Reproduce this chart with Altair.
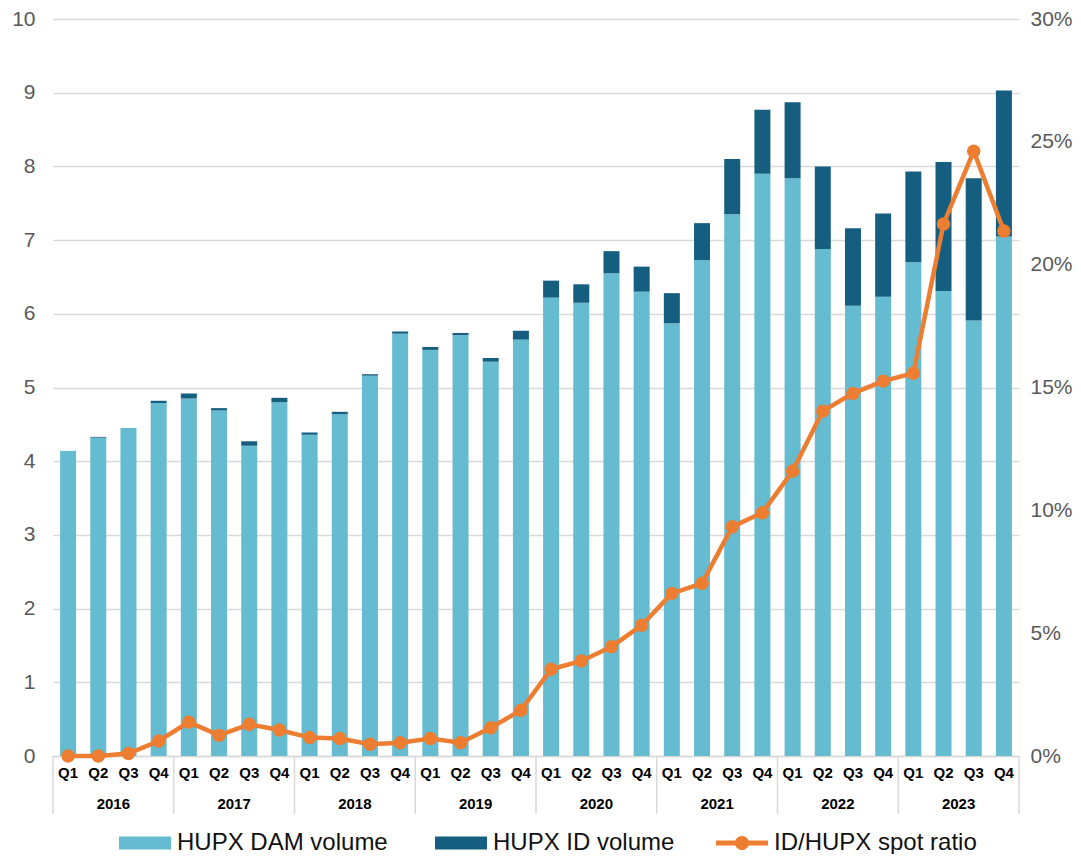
import altair as alt
import pandas as pd

# ---------------- data ----------------
years = ["2016", "2017", "2018", "2019", "2020", "2021", "2022", "2023"]
quarter_names = ["Q1", "Q2", "Q3", "Q4"]

dam_volume = [4.14, 4.32, 4.45, 4.79, 4.85, 4.69, 4.21, 4.80,
              4.36, 4.64, 5.16, 5.73, 5.51, 5.71, 5.35, 5.65,
              6.22, 6.15, 6.55, 6.30, 5.87, 6.73, 7.35, 7.90,
              7.84, 6.88, 6.11, 6.23, 6.70, 6.31, 5.91, 7.05]
id_volume = [0.00, 0.01, 0.00, 0.03, 0.07, 0.03, 0.06, 0.06,
             0.03, 0.03, 0.02, 0.03, 0.04, 0.03, 0.05, 0.12,
             0.23, 0.25, 0.30, 0.34, 0.41, 0.50, 0.75, 0.87,
             1.03, 1.12, 1.05, 1.13, 1.23, 1.75, 1.93, 1.98]
ratio_pct = [0.0, 0.0, 0.1, 0.61, 1.38, 0.84, 1.29, 1.06,
             0.75, 0.71, 0.48, 0.54, 0.71, 0.54, 1.15, 1.86,
             3.53, 3.87, 4.45, 5.32, 6.62, 7.03, 9.33, 9.90,
             11.6, 14.04, 14.76, 15.26, 15.58, 21.66, 24.62, 21.37]

left_ticks = list(range(0, 11))
right_ticks = [0, 0.05, 0.10, 0.15, 0.20, 0.25, 0.30]

series_names = ["HUPX DAM volume", "HUPX ID volume", "ID/HUPX spot ratio"]

# ---------------- styles ----------------
LIGHT = "#65BBCF"
DARK = "#155E80"
ORANGE = "#ED7D31"
GRID = "#D9D9D9"
AXIS_TXT = "#595959"
FONT = "Liberation Sans"

W, H = 966, 737

rows = []
for i in range(len(dam_volume)):
    rows.append(dict(idx=i, quarter=quarter_names[i % 4], year=years[i // 4],
                     dam=dam_volume[i], idv=id_volume[i], ratio=ratio_pct[i] / 100.0))
df = pd.DataFrame(rows)
years_df = pd.DataFrame({"year": years, "k": list(range(len(years)))})
sep_df = pd.DataFrame({"b": [4 * k for k in range(len(years) + 1)]})

n = len(dam_volume)
xscale = alt.Scale(domain=[0, n], nice=False, zero=False)

base = alt.Chart(df).transform_calculate(
    x0="datum.idx + 0.235", x1="datum.idx + 0.765", xc="datum.idx + 0.5",
    total="datum.dam + datum.idv")

RECT_PATH = "M-1,-0.25H1V0.25H-1Z"
LINE_PATH = "M-1,-0.1H1V0.1H-1Z M0.27,0A0.27,0.27 0 1,1 -0.27,0A0.27,0.27 0 1,1 0.27,0Z"

LEG_Y = 798

bar_color = alt.Scale(domain=series_names[:2], range=[LIGHT, DARK])
bar_legend = alt.Legend(orient="none", legendX=66, legendY=LEG_Y, direction="horizontal",
                        title=None, symbolType=RECT_PATH, symbolSize=2704,
                        labelFontSize=24, labelFont=FONT, labelColor="#111111",
                        labelOffset=6, columnPadding=47, padding=0, labelLimit=0,
                        symbolStrokeWidth=0, symbolOpacity=1)

xaxis = alt.Axis(labels=False, ticks=False, grid=False, domainColor=GRID,
                 domainWidth=1.5, title=None)
left_axis = alt.Axis(values=left_ticks, format="d", title=None, ticks=False,
                     domain=False, labelFontSize=21, labelFont=FONT,
                     labelColor=AXIS_TXT, labelPadding=18, gridColor=GRID,
                     gridWidth=1.5)
right_axis = alt.Axis(orient="right", values=right_ticks, format=".0%", title=None,
                      ticks=False, domain=False, grid=False, labelFontSize=21,
                      labelFont=FONT, labelColor=AXIS_TXT, labelPadding=11)
vol_scale = alt.Scale(domain=[0, 10], nice=False)
ratio_scale = alt.Scale(domain=[0, 0.3], nice=False)

dam_bars = base.transform_calculate(series="'HUPX DAM volume'").mark_bar(opacity=1).encode(
    x=alt.X("x0:Q", scale=xscale, axis=xaxis),
    x2="x1:Q",
    y=alt.Y("dam:Q", scale=vol_scale, axis=left_axis),
    y2=alt.datum(0),
    color=alt.Color("series:N", scale=bar_color, legend=bar_legend),
)

id_bars = base.transform_calculate(series="'HUPX ID volume'").mark_bar(opacity=1).encode(
    x=alt.X("x0:Q", scale=xscale, axis=xaxis),
    x2="x1:Q",
    y=alt.Y("total:Q", scale=vol_scale, axis=left_axis),
    y2="dam:Q",
    color=alt.Color("series:N", scale=bar_color, legend=bar_legend),
)

seps = alt.Chart(sep_df).mark_rule(color=GRID, strokeWidth=1.5).encode(
    x=alt.X("b:Q", scale=xscale, axis=xaxis),
    y=alt.value(H),
    y2=alt.value(H + 58),
)

qtext = base.mark_text(font=FONT, fontSize=15, fontWeight="bold", color="#000000",
                       baseline="middle").encode(
    x=alt.X("xc:Q", scale=xscale, axis=xaxis),
    y=alt.value(H + 17),
    text="quarter:N",
)

ytext = alt.Chart(years_df).transform_calculate(xc="datum.k * 4 + 2").mark_text(
    font=FONT, fontSize=15, fontWeight="bold", color="#000000", baseline="middle").encode(
    x=alt.X("xc:Q", scale=xscale, axis=xaxis),
    y=alt.value(H + 48),
    text="year:N",
)

line = base.mark_line(color=ORANGE, strokeWidth=4.5).encode(
    x=alt.X("xc:Q", scale=xscale, axis=xaxis),
    y=alt.Y("ratio:Q", scale=ratio_scale, axis=right_axis),
)

line_legend = alt.Legend(orient="none", legendX=663, legendY=LEG_Y, direction="horizontal",
                         title=None, symbolType=LINE_PATH, symbolSize=2704,
                         labelFontSize=24, labelFont=FONT, labelColor="#111111",
                         labelOffset=6, padding=0, labelLimit=0,
                         symbolStrokeWidth=0, symbolOpacity=1)

points = base.transform_calculate(series="'ID/HUPX spot ratio'").mark_circle(
    size=180, opacity=1).encode(
    x=alt.X("xc:Q", scale=xscale, axis=xaxis),
    y=alt.Y("ratio:Q", scale=ratio_scale, axis=right_axis),
    color=alt.Color("series:N", scale=alt.Scale(domain=series_names[2:], range=[ORANGE]),
                    legend=line_legend),
)

left = alt.layer(dam_bars, id_bars, seps, qtext, ytext)
right = alt.layer(line, points)

chart = alt.layer(left, right).resolve_scale(y="independent", color="independent").properties(
    width=W, height=H,
    autosize=alt.AutoSizeParams(type="none"),
    padding={"left": 45, "top": 11, "right": 54, "bottom": 98},
).configure(font=FONT).configure_view(stroke=None)

chart.save("out.html", embed_options={"renderer": "svg", "actions": False})
